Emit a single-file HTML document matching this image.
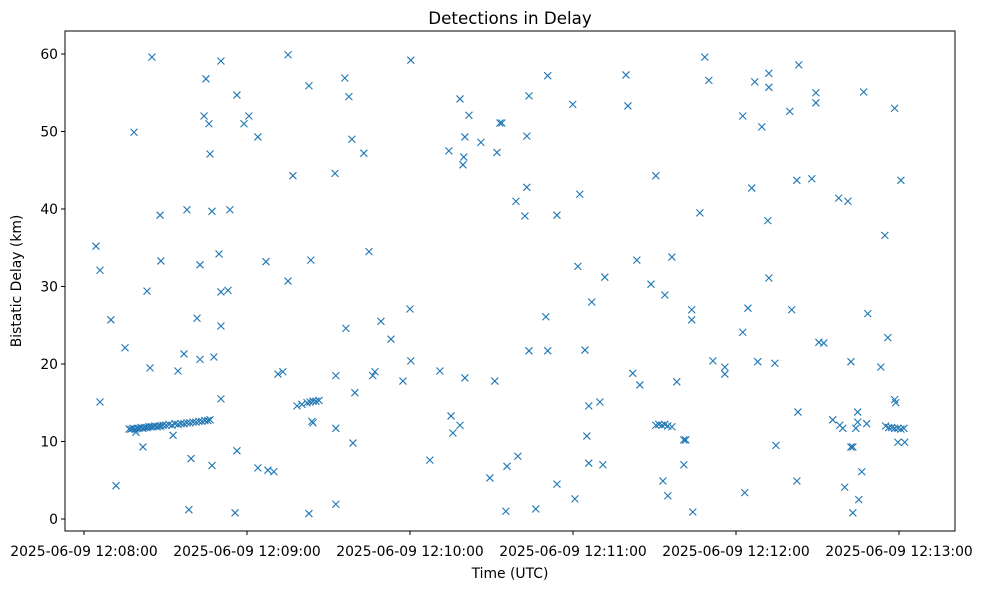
<!DOCTYPE html>
<html><head><meta charset="utf-8"><style>
body{margin:0;background:#fff;font-family:"Liberation Sans","DejaVu Sans",sans-serif}
svg text{font-family:"DejaVu Sans","Liberation Sans",sans-serif;fill:#000}
</style></head><body>
<svg id="chart" width="981" height="590" xmlns="http://www.w3.org/2000/svg">
<rect width="981" height="590" fill="#fff"/>
<text x="510" y="24" font-size="16.7" text-anchor="middle">Detections in Delay</text>
<text x="510" y="578" font-size="13.9" text-anchor="middle">Time (UTC)</text>
<text x="0" y="0" font-size="13.9" text-anchor="middle" transform="translate(21,281) rotate(-90)">Bistatic Delay (km)</text>
<g id="ticks"></g>
<g id="marks"></g>
<rect x="65" y="31" width="890" height="500" fill="none" stroke="#000" stroke-width="1"/>
</svg>
<script>
const timeSeconds=[4.4,5.9,5.9,9.9,11.8,15.1,18.4,
16.6,17.3,18.0,18.8,19.5,20.2,21.0,21.7,22.4,23.2,23.9,24.7,25.4,26.1,26.9,27.6,28.3,29.1,30.2,31.3,32.4,33.5,34.6,35.7,36.8,37.9,39.0,40.1,41.2,42.3,43.4,44.5,45.6,46.4,
19.1,21.7,23.2,24.3,25.0,28.0,28.3,32.8,34.6,36.8,37.9,38.6,39.4,41.6,42.7,42.7,44.2,44.9,46.0,46.4,47.1,47.1,47.8,49.7,50.4,50.4,50.4,50.4,53.0,53.7,55.6,56.3,56.3,58.9,60.7,64.0,64.0,67.0,67.7,69.9,71.4,73.2,75.1,75.1,76.9,78.4,80.2,82.8,82.8,83.5,82.1,83.2,84.3,85.4,86.5,83.9,84.3,
92.4,92.7,92.7,92.7,96.0,96.4,97.5,98.6,99.0,99.7,103.0,104.9,106.3,107.1,109.3,113.0,117.4,120.0,120.3,120.3,127.3,131.0,135.1,135.8,134.3,138.4,138.4,139.5,139.8,140.2,140.2,141.7,146.1,149.4,151.2,152.0,153.1,153.8,155.3,155.7,159.0,159.7,162.3,163.0,163.0,163.8,163.8,166.3,170.0,170.7,170.7,174.1,174.1,
179.9,180.7,181.8,182.5,184.4,185.1,185.8,185.8,186.9,189.9,191.0,191.7,199.5,200.2,202.0,203.5,204.6,208.7,210.5,210.5,211.6,212.7,213.8,214.9,216.4,213.1,213.8,214.9,216.4,218.2,220.8,220.8,221.5,223.7,223.7,224.1,226.7,228.5,230.0,231.5,235.9,235.9,
242.5,242.5,243.2,244.4,245.8,246.9,248.0,249.5,251.7,252.1,252.1,252.1,254.3,254.7,259.8,260.5,262.4,262.4,262.8,263.1,267.9,269.4,269.4,270.5,272.3,275.6,277.8,278.2,279.3,280.0,281.2,282.3,282.3,283.0,283.0,284.1,284.8,284.8,285.2,286.3,287.0,288.1,288.5,293.3,294.8,295.1,295.9,296.2,297.3,298.4,299.6,300.7,301.8,298.4,298.8,298.4,299.6,300.7,302.1];
const delayKm=[35.2,32.1,15.1,25.7,4.3,22.1,49.9,
11.6,11.6,11.7,11.6,11.7,11.7,11.8,11.7,11.8,11.8,11.9,11.9,11.9,12.0,11.9,12.0,12.0,12.1,12.1,12.2,12.1,12.3,12.2,12.3,12.3,12.4,12.4,12.5,12.5,12.6,12.6,12.7,12.7,12.8,
11.2,9.3,29.4,19.5,59.6,39.2,33.3,10.8,19.1,21.3,39.9,1.2,7.8,25.9,32.8,20.6,52.0,56.8,51.0,47.1,39.7,6.9,20.9,34.2,59.1,29.3,24.9,15.5,29.5,39.9,0.8,8.8,54.7,51.0,52.0,49.3,6.6,33.2,6.3,6.1,18.7,19.0,30.7,59.9,44.3,14.6,14.8,55.9,0.7,33.4,15.0,15.1,15.2,15.2,15.3,12.6,12.4,
44.6,18.5,11.7,1.9,56.9,24.6,54.5,49.0,9.8,16.3,47.2,34.5,18.5,19.0,25.5,23.2,17.8,27.1,59.2,20.4,7.6,19.1,13.3,11.1,47.5,54.2,12.1,45.7,46.7,49.3,18.2,52.1,48.6,5.3,17.8,47.3,51.1,51.1,1.0,6.8,41.0,8.1,39.1,42.8,49.4,54.6,21.7,1.3,26.1,57.2,21.7,39.2,4.5,
53.5,2.6,32.6,41.9,21.8,10.7,14.6,7.2,28.0,15.1,7.0,31.2,57.3,53.3,18.8,33.4,17.3,30.3,44.3,12.1,12.2,12.1,12.2,12.0,11.9,4.9,28.9,3.0,33.8,17.7,10.2,7.0,10.2,27.0,25.7,0.9,39.5,59.6,56.6,20.4,19.6,18.7,
52.0,24.1,3.4,27.2,42.7,56.4,20.3,50.6,38.5,57.5,55.7,31.1,20.1,9.5,52.6,27.0,43.7,4.9,13.8,58.6,43.9,55.0,53.7,22.8,22.7,12.8,41.4,12.1,11.7,4.1,41.0,20.3,9.3,0.8,9.3,11.7,13.8,12.5,2.5,6.1,55.1,12.3,26.5,19.6,36.6,12.0,23.4,11.8,11.8,11.7,11.7,11.6,11.7,15.4,15.0,53.0,9.9,43.7,9.9];
const yTicks=[0,10,20,30,40,50,60];
const xTicks=[0,60,120,180,240,300];
const xTickLabels=["2025-06-09 12:08:00","2025-06-09 12:09:00","2025-06-09 12:10:00","2025-06-09 12:11:00","2025-06-09 12:12:00","2025-06-09 12:13:00"];

const NS="http://www.w3.org/2000/svg";
const sx=t=>84+t*163/60;
const sy=d=>519-d*7.75;
const tg=document.getElementById('ticks');
const mg=document.getElementById('marks');
function mk(tag,attrs,parent){const e=document.createElementNS(NS,tag);for(const k in attrs)e.setAttribute(k,attrs[k]);parent.appendChild(e);return e;}
yTicks.forEach(v=>{
  const l=mk('line',{x1:61,x2:65,y1:sy(v),y2:sy(v),stroke:'#000'},tg);
  
  
  const t=mk('text',{x:58,y:sy(v)+5,'font-size':13.9,'text-anchor':'end'},tg);
  t.textContent=v;
  
  
});
xTicks.forEach((v,i)=>{
  const l=mk('line',{x1:sx(v),x2:sx(v),y1:531,y2:535,stroke:'#000'},tg);
  
  
  const t=mk('text',{x:sx(v),y:556,'font-size':13.9,'text-anchor':'middle'},tg);
  t.textContent=xTickLabels[i];
  
  
});
timeSeconds.forEach((t,i)=>{
  const x=sx(t),y=sy(delayKm[i]),r=3.5;
  const p=mk('path',{d:`M${x-r},${y-r}L${x+r},${y+r}M${x-r},${y+r}L${x+r},${y-r}`,stroke:'#1f77b4','stroke-width':1.1,fill:'none'},mg);
  
  
});
</script>
</body></html>
